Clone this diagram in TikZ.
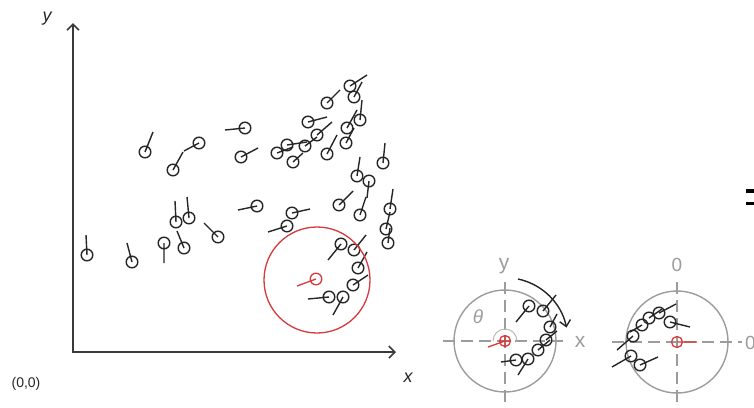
\documentclass[tikz,border=0pt]{standalone}
\usepackage{fontspec}
\setmainfont{Liberation Sans}
\usetikzlibrary{arrows.meta}
\definecolor{kpcol}{HTML}{262626}
\definecolor{redc}{HTML}{D8393C}
\definecolor{grayc}{HTML}{9C9C9C}
\definecolor{axcol}{HTML}{3A3A3A}
\newcommand\kp[4]{\draw[kpt] (#1,#2) circle[radius=5.8] (#1,#2) -- (#3,#4);}
\begin{document}
\begin{tikzpicture}[x=1pt,y=-1pt,
  kpt/.style={draw=kpcol,line width=1.4pt},
  axis/.style={draw=axcol,line width=1.6pt},
  ring/.style={draw=grayc,line width=1.4pt},
  cross/.style={draw=grayc,line width=1.2pt,dash pattern=on 12pt off 6pt},
  redline/.style={draw=redc,line width=1.3pt},
  glab/.style={text=grayc,inner sep=0pt},
  blab/.style={text=black!85,inner sep=0pt}]
\useasboundingbox (0,0) rectangle (754,407);

% axes
\coordinate (O) at (73,352);
\coordinate (Y) at (73,23);
\coordinate (X) at (396,352);
\draw[axis,{Straight Barb[length=6pt,width=12pt]}-{Straight Barb[length=6pt,width=12pt]}] (Y) -- (O) -- (X);
\node[blab] (ylab) at (47,19) {\fontsize{18}{18}\selectfont\itshape y};
\node[blab] (xlab) at (408,378) {\fontsize{18}{18}\selectfont\itshape x};
\node[blab] (orig) at (26,384) {\fontsize{14}{14}\selectfont (0,0)};

% keypoints
\kp{87}{255}{86}{235}
\kp{132}{262}{127}{243}
\kp{164}{243}{164}{263}
\kp{176}{222}{175}{201}
\kp{189}{218}{187}{197}
\kp{184}{248}{177}{231}
\kp{218}{237}{204}{223}
\kp{145}{152}{153}{132}
\kp{173}{170}{183}{152}
\kp{199}{143}{184}{151}
\kp{245}{128}{225}{130}
\kp{241}{157}{258}{148}
\kp{327}{103}{340}{90}
\kp{350}{86}{367}{75}
\kp{354}{97}{362}{82}
\kp{360}{120}{362}{100}
\kp{308}{122}{327}{117}
\kp{317}{135}{332}{122}
\kp{347}{128}{357}{110}
\kp{346}{143}{354}{128}
\kp{327}{154}{337}{135}
\kp{305}{146}{317}{137}
\kp{287}{145}{307}{142}
\kp{277}{153}{293}{147}
\kp{293}{162}{303}{153}
\kp{383}{163}{385}{143}
\kp{357}{176}{360}{157}
\kp{369}{181}{367}{198}
\kp{360}{215}{366}{197}
\kp{339}{205}{353}{191}
\kp{257}{206}{238}{210}
\kp{292}{213}{310}{209}
\kp{287}{226}{268}{232}
\kp{390}{209}{393}{189}
\kp{386}{229}{390}{212}
\kp{388}{243}{390}{228}
\kp{341}{244}{328}{260}
\kp{354}{250}{366}{235}
\kp{358}{268}{367}{252}
\kp{353}{285}{368}{275}
\kp{343}{297}{333}{315}
\kp{329}{297}{308}{299}

% red neighbourhood
\coordinate (rc) at (316,279);
\draw[redline] (317,280) circle[radius=53];
\draw[redline] (rc) circle[radius=5.8] (rc) -- (297,286);

% "=" fragment
\fill[black] (746,189) rectangle (754,193);
\fill[black] (746,202) rectangle (754,205);

% left small diagram
\coordinate (c1) at (505,341);
\draw[ring] (c1) circle[radius=51];
\draw[cross] (443,341) -- (568,341);
\draw[cross] (505,282) -- (505,407);
\node[glab] (ys) at (504,266) {\fontsize{21}{21}\selectfont y};
\node[glab] (xs) at (580,342) {\fontsize{21}{21}\selectfont x};
\node[glab] (th) at (478,317) {\fontsize{19}{19}\selectfont\itshape θ};
\draw[draw=grayc!70,line width=1pt] (493,341) arc[start angle=180,end angle=360,radius=12];
\draw[draw=black!85,line width=1.4pt,-{Straight Barb[length=6pt,width=11pt]}] (518,279) arc[start angle=-78,end angle=-12,radius=63];
\kp{529}{306}{516}{322}
\kp{543}{311}{556}{295}
\kp{550}{327}{557}{314}
\kp{546}{340}{557}{331}
\kp{538}{350}{550}{340}
\kp{528}{359}{518}{375}
\kp{516}{360}{501}{362}
\draw[redline] (c1) circle[radius=5.5] (499,341) -- (511,341) (505,335) -- (505,347);
\draw[redline] (c1) -- (488,347);

% right small diagram
\coordinate (c2) at (677,342);
\draw[ring] (c2) circle[radius=51];
\draw[cross] (612,342) -- (742,342);
\draw[cross] (677,282) -- (677,407);
\node[glab] (zt) at (677,265) {\fontsize{19}{19}\selectfont 0};
\node[glab,anchor=west] (zr) at (745,343) {\fontsize{19}{19}\selectfont 0};
\kp{670}{322}{690}{327}
\kp{659}{313}{676}{304}
\kp{649}{318}{662}{309}
\kp{642}{325}{630}{332}
\kp{633}{336}{617}{350}
\kp{631}{356}{612}{367}
\kp{640}{365}{658}{357}
\draw[redline] (c2) circle[radius=5.5] (c2) -- (697,342);
\end{tikzpicture}
\end{document}
